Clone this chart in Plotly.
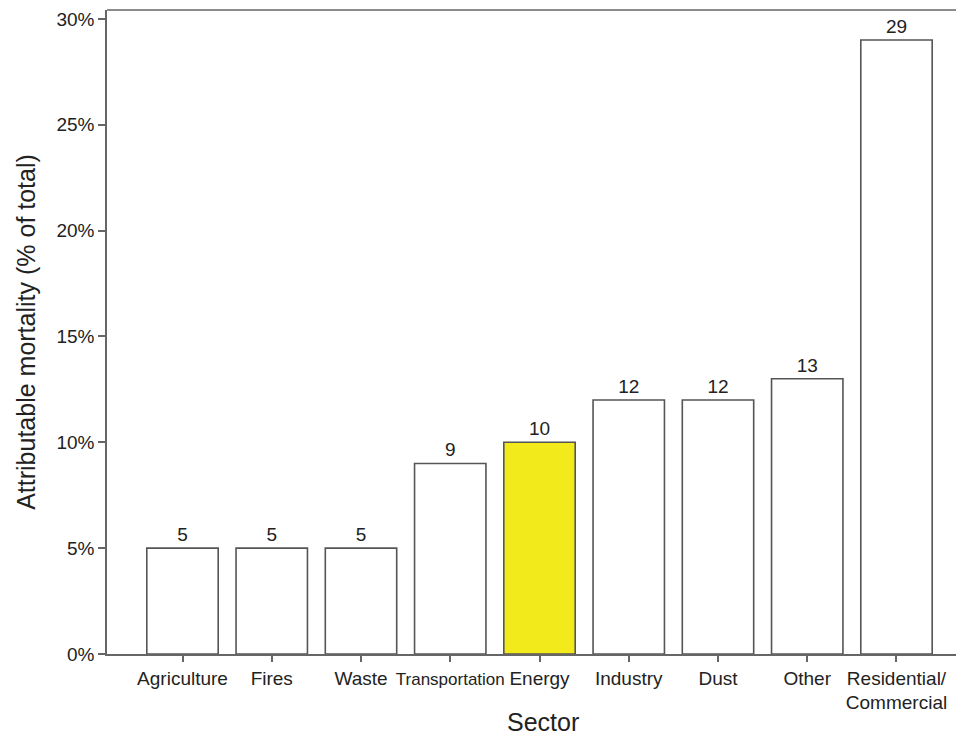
import plotly.graph_objects as go

sectors = ["Agriculture", "Fires", "Waste",
           "<span style='font-size:17px'>Transportation</span>", "Energy",
           "Industry", "Dust", "Other", "Residential/<br>Commercial"]
mortality = [5, 5, 5, 9, 10, 12, 12, 13, 29]
bar_colors = ["white", "white", "white", "white", "#F3EA1C",
              "white", "white", "white", "white"]
y_ticks = [0, 5, 10, 15, 20, 25, 30]
y_tick_labels = ["0%", "5%", "10%", "15%", "20%", "25%", "30%"]

fig = go.Figure(go.Bar(
    x=list(range(len(sectors))),
    y=mortality,
    width=0.8,
    marker=dict(color=bar_colors, line=dict(color="#555555", width=1.6)),
    text=[str(v) for v in mortality],
    textposition="outside",
    cliponaxis=False,
    textfont=dict(size=19, color="#222222"),
))

fig.update_layout(
    width=956, height=729,
    margin=dict(l=99, r=2, t=2, b=83),
    paper_bgcolor="white", plot_bgcolor="white",
    font=dict(family="Liberation Sans, Arial, sans-serif", color="#222222", size=19),
    showlegend=False,
)
fig.update_xaxes(
    tickmode="array", tickvals=list(range(len(sectors))), ticktext=sectors,
    range=[-0.846, 8.734],
    showline=True, linecolor="#666666", linewidth=1.5,
    ticks="outside", ticklen=6, tickcolor="#666666", tickwidth=1.5,
    tickfont=dict(size=19),
    showgrid=False, zeroline=False,
)
fig.update_yaxes(
    tickmode="array", tickvals=y_ticks, ticktext=y_tick_labels,
    range=[0, 30.42],
    showline=True, linecolor="#666666", linewidth=1.5,
    ticks="outside", ticklen=7, tickcolor="#666666", tickwidth=1.5,
    tickfont=dict(size=19),
    title=dict(text="Attributable mortality (% of total)", font=dict(size=25), standoff=14),
    showgrid=False, zeroline=False,
)
fig.add_shape(type="line", xref="paper", yref="paper", x0=0, x1=1, y0=1, y1=1,
              line=dict(color="#666666", width=1.5))
fig.add_annotation(text="Sector", xref="paper", yref="paper", x=0.51, y=-0.1056,
                   xanchor="center", yanchor="middle", showarrow=False,
                   font=dict(size=25, color="#222222"))

fig.write_html("out.html")
